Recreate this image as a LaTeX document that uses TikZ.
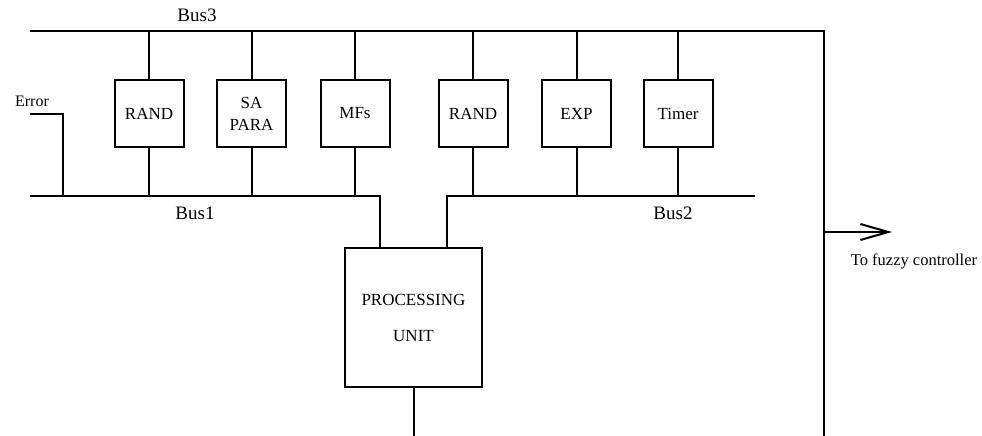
\documentclass[tikz,border=0pt]{standalone}
\usepackage{fontspec}
\setmainfont{Liberation Serif}
\usetikzlibrary{arrows.meta}
\begin{document}
\begin{tikzpicture}[x=1pt,y=-1pt,
  wire/.style={line width=2pt},
  unitbox/.style={draw,line width=2pt,minimum width=69pt,minimum height=67pt,inner sep=0pt,align=center,font=\fontsize{17}{22}\selectfont},
  buslabel/.style={font=\fontsize{19}{22}\selectfont,inner sep=0pt},
  smalllabel/.style={font=\fontsize{16}{20}\selectfont,inner sep=0pt}]
\useasboundingbox (0,0) rectangle (982,436);
% boxes
\node[unitbox] (r1) at (149,113.5) {RAND};
\node[unitbox] (sa) at (251.5,113.5) {SA\\PARA};
\node[unitbox] (mf) at (355,113.5) {MFs};
\node[unitbox] (r2) at (473,113.5) {RAND};
\node[unitbox] (ex) at (576.5,113.5) {EXP};
\node[unitbox] (tm) at (678,113.5) {Timer};
\node[draw,line width=2pt,minimum width=137pt,minimum height=139pt,inner sep=0pt,align=center,font=\fontsize{17}{36}\selectfont] (pu) at (413.5,317.5) {PROCESSING\\UNIT};
% bus coordinates
\coordinate (b3l) at (30,31);
\coordinate (b3r) at (824,31);
\coordinate (bot) at (824,436);
\coordinate (b1l) at (30,196);
\coordinate (b1r) at (380,196);
\coordinate (b2l) at (447,196);
\coordinate (b2r) at (755,196);
\coordinate (errl) at (30,114);
\coordinate (errc) at (63,114);
\coordinate (errb) at (63,196);
\coordinate (arrs) at (824,232);
\coordinate (arre) at (892,232);
% buses
\draw[wire] (b3l) -- (b3r) -- (bot);
\draw[wire] (b1l) -- (b1r) -- (b1r |- pu.north);
\draw[wire] (b2r) -- (b2l) -- (b2l |- pu.north);
\draw[wire] (errl) -- (errc) -- (errb);
\draw[wire] (pu.south) -- (pu.south |- bot);
\foreach \n in {r1,sa,mf,r2,ex,tm}{
  \draw[wire] (\n.north) -- (\n.north |- b3l);
}
\foreach \n in {r1,sa,mf}{
  \draw[wire] (\n.south) -- (\n.south |- b1l);
}
\foreach \n in {r2,ex,tm}{
  \draw[wire] (\n.south) -- (\n.south |- b2l);
}
\draw[wire,-{Straight Barb[length=28pt,width=16pt,line width=2pt]}] (arrs) -- (arre);
% labels
\node[buslabel] (l3) at (197,15) {Bus3};
\node[buslabel] (l1) at (195,213) {Bus1};
\node[buslabel] (l2) at (673,213) {Bus2};
\node[smalllabel] (le) at (32,101) {Error};
\node[font=\fontsize{16.5}{20}\selectfont,inner sep=0pt] (lf) at (914,261) {To fuzzy controller};
\end{tikzpicture}
\end{document}
